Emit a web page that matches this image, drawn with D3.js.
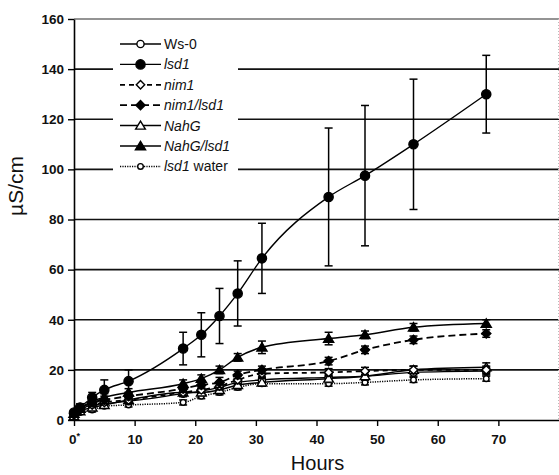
<!DOCTYPE html>
<html lang="en">
<head>
  <meta charset="UTF-8">
  <title>Conductivity over time</title>
  <script src="https://d3js.org/d3.v7.min.js"></script>
  <style>
    body { margin: 0; background: #fff; }
    svg { font-family: "Liberation Sans", Arial, sans-serif; }
    .grid line { stroke: #111; stroke-width: 1.6px; }
  </style>
</head>
<body>
  <svg width="559" height="475"></svg>

  <script>
    // hours sampled
    const hours = [0, 1, 3, 5, 9, 18, 21, 24, 27, 31, 42, 48, 56, 68];

    const ws0      = [2, 4, 6, 6.5, 7.5, 10.5, 11.5, 13, 15, 16, 17, 17.5, 19, 19.5];
    const ws0Err   = [0.5, 0.8, 1, 1, 1, 1.2, 1.2, 1.5, 1.5, 1.5, 1.5, 1.5, 1.5, 1.5];
    const lsd1     = [3, 5, 9, 12, 15.5, 28.5, 34, 41.5, 50.5, 64.5, 89, 97.5, 110, 130];
    const lsd1Err  = [1, 1.5, 2, 4, 4.5, 6.5, 8.8, 11, 13, 14, 27.5, 28, 26, 15.5];
    const nim1     = [2, 4, 6, 7, 8, 11, 12, 13.5, 16, 18.5, 19, 19.5, 20, 20];
    const nim1Err  = [0.5, 0.8, 1, 1, 1, 1.2, 1.2, 1.5, 1.5, 1.5, 1.5, 1.5, 1.5, 1.5];
    const nimLsd   = [2.5, 4.5, 7, 8, 9.5, 12.5, 14, 15, 18, 20, 23.5, 28, 32, 34.5];
    const nimLsdErr = [0.5, 1, 1.5, 1.5, 1.5, 1.5, 1.5, 2, 1.5, 1.5, 1.5, 1.5, 1.5, 1.5];
    const nahG     = [1.5, 3.5, 5, 6, 8, 11, 11, 12, 14, 15, 16.5, 17.5, 20, 21];
    const nahGErr  = [0.5, 0.8, 1, 1, 1, 1.2, 1.2, 1.5, 1.5, 1.5, 1.5, 1.5, 1.5, 1.8];
    const nahGLsd  = [2.5, 4.5, 7.5, 9, 11, 14.5, 16.5, 20, 25, 29, 32.5, 34, 37, 38.5];
    const nahGLsdErr = [0.5, 1, 1.5, 1.5, 1.5, 1.5, 1.5, 1.5, 1.5, 2.5, 2.5, 1.5, 1.5, 1.5];
    const water    = [2, 3, 4, 5.5, 6, 7, 9.5, 11, 13, 14.5, 14.5, 15, 16, 16.5];
    const waterErr = [0.5, 0.5, 0.8, 0.8, 0.8, 1, 1, 1, 1, 1, 1, 1, 1, 1];

    const xTicks = [0, 10, 20, 30, 40, 50, 60, 70];
    const yTicks = [0, 20, 40, 60, 80, 100, 120, 140, 160];

    const series = [
      { name: "Ws-0", values: ws0, err: ws0Err, marker: "circle", fill: "#fff", r: 3.6, dash: null, w: 1.3 },
      { name: "lsd1", values: lsd1, err: lsd1Err, marker: "circle", fill: "#000", r: 4.6, dash: null, w: 1.4 },
      { name: "nim1", values: nim1, err: nim1Err, marker: "diamond", fill: "#fff", r: 4.2, dash: "5,4", w: 1.8 },
      { name: "nim1/lsd1", values: nimLsd, err: nimLsdErr, marker: "diamond", fill: "#000", r: 4.6, dash: "7,4", w: 1.8 },
      { name: "NahG", values: nahG, err: nahGErr, marker: "triangle", fill: "#fff", r: 4.4, dash: null, w: 1.5 },
      { name: "NahG/lsd1", values: nahGLsd, err: nahGLsdErr, marker: "triangle", fill: "#000", r: 4.6, dash: null, w: 1.5 },
      { name: "lsd1 water", values: water, err: waterErr, marker: "circle", fill: "#fff", r: 2.8, dash: "1.2,1.2", w: 1.5 }
    ];

    const svg = d3.select("svg"),
      margin = { top: 19, right: 0, bottom: 55, left: 74 },
      width = +svg.attr("width") - margin.left - margin.right,
      height = +svg.attr("height") - margin.top - margin.bottom;

    const g = svg.append("g").attr("transform", `translate(${margin.left},${margin.top})`);

    const x = d3.scaleLinear().domain([0, 80]).range([0, width]);
    const y = d3.scaleLinear().domain([0, 160]).range([height, 0]);

    // gridlines
    g.append("g").attr("class", "grid")
      .selectAll("line")
      .data(yTicks.filter(d => d > 0))
      .enter().append("line")
      .attr("x1", 0).attr("x2", width)
      .attr("y1", d => y(d)).attr("y2", d => y(d))
      .attr("stroke-opacity", d => d === 160 ? 0.6 : 1);

    // right edge, faint
    g.append("line")
      .attr("x1", width - 0.5).attr("x2", width - 0.5)
      .attr("y1", y(160)).attr("y2", y(0))
      .attr("stroke", "#bbb").attr("stroke-dasharray", "1,2");

    // legend background hides gridlines
    g.append("rect")
      .attr("x", 113 - margin.left).attr("y", 30 - margin.top)
      .attr("width", 125).attr("height", 148)
      .attr("fill", "#fff");

    // Y Axis
    const yAxis = g.append("g")
      .call(d3.axisLeft(y).tickValues(yTicks).tickSize(6).tickSizeOuter(0).tickPadding(4));
    yAxis.select(".domain").attr("stroke", "#000").attr("stroke-width", 1.6);
    yAxis.selectAll(".tick line").attr("stroke", "#000").attr("stroke-width", 1.4);
    yAxis.selectAll("text").attr("font-size", 13.5).attr("font-weight", "bold").attr("fill", "#111");

    // X Axis
    const xAxis = g.append("g")
      .attr("transform", `translate(0,${height})`)
      .call(d3.axisBottom(x).tickValues(xTicks).tickSize(6).tickSizeOuter(0).tickPadding(8).tickFormat(d => d));
    xAxis.select(".domain").attr("stroke", "#000").attr("stroke-width", 1.6);
    xAxis.selectAll(".tick line").attr("stroke", "#000").attr("stroke-width", 1.4);
    xAxis.selectAll("text").attr("font-size", 13.5).attr("font-weight", "bold").attr("fill", "#111");
    xAxis.selectAll(".tick").filter(d => d === 0).select("text")
      .text("0").append("tspan").attr("dy", -5).attr("font-size", 9).text("*");

    // axis titles
    svg.append("text")
      .attr("x", margin.left + width / 2 + 1).attr("y", 470)
      .attr("text-anchor", "middle").attr("font-size", 20).attr("fill", "#111")
      .text("Hours");
    svg.append("text")
      .attr("transform", "translate(23,186) rotate(-90)")
      .attr("text-anchor", "middle").attr("font-size", 21).attr("fill", "#111")
      .text("\u00b5S/cm");

    const line = d3.line().curve(d3.curveMonotoneX);

    function drawMarker(sel, s, cx, cy) {
      if (s.marker === "circle") {
        sel.append("circle").attr("cx", cx).attr("cy", cy).attr("r", s.r)
          .attr("fill", s.fill).attr("stroke", "#000").attr("stroke-width", 1.4);
      } else if (s.marker === "diamond") {
        const r = s.r;
        sel.append("path")
          .attr("d", `M${cx},${cy - r}L${cx + r},${cy}L${cx},${cy + r}L${cx - r},${cy}Z`)
          .attr("fill", s.fill).attr("stroke", "#000").attr("stroke-width", 1.4);
      } else {
        const r = s.r;
        sel.append("path")
          .attr("d", `M${cx},${cy - r}L${cx + r * 1.1},${cy + r * 0.8}L${cx - r * 1.1},${cy + r * 0.8}Z`)
          .attr("fill", s.fill).attr("stroke", "#000").attr("stroke-width", 1.4);
      }
    }

    // draw series, low ones first
    const order = [6, 0, 4, 2, 3, 5, 1];
    order.forEach(i => {
      const s = series[i];
      const sg = g.append("g");
      const pts = hours.map((h, k) => [x(h), y(s.values[k])]);

      // error bars
      hours.forEach((h, k) => {
        const cx = x(h), lo = y(s.values[k] - s.err[k]), hi = y(s.values[k] + s.err[k]);
        sg.append("line").attr("x1", cx).attr("x2", cx).attr("y1", lo).attr("y2", hi)
          .attr("stroke", "#000").attr("stroke-width", 1.5);
        [lo, hi].forEach(v => sg.append("line")
          .attr("x1", cx - 4).attr("x2", cx + 4).attr("y1", v).attr("y2", v)
          .attr("stroke", "#000").attr("stroke-width", 1.5));
      });

      sg.append("path")
        .attr("d", line(pts))
        .attr("fill", "none").attr("stroke", "#000")
        .attr("stroke-width", s.w)
        .attr("stroke-dasharray", s.dash);

      pts.forEach(p => drawMarker(sg, s, p[0], p[1]));
    });

    // legend
    const legend = svg.append("g");
    series.forEach((s, i) => {
      const ly = 44 + i * 20.4;
      const row = legend.append("g");
      row.append("line").attr("x1", 120).attr("x2", 161).attr("y1", ly).attr("y2", ly)
        .attr("stroke", "#000").attr("stroke-width", s.w)
        .attr("stroke-dasharray", s.dash);
      drawMarker(row, s, 140.5, ly);
      const t = row.append("text").attr("x", 164).attr("y", ly + 5)
        .attr("font-size", 14).attr("fill", "#111");
      if (s.name === "Ws-0") {
        t.text("Ws-0");
      } else if (s.name === "lsd1 water") {
        t.append("tspan").attr("font-style", "italic").text("lsd1");
        t.append("tspan").text(" water");
      } else {
        t.attr("font-style", "italic").text(s.name);
      }
    });
  </script>
</body>
</html>
